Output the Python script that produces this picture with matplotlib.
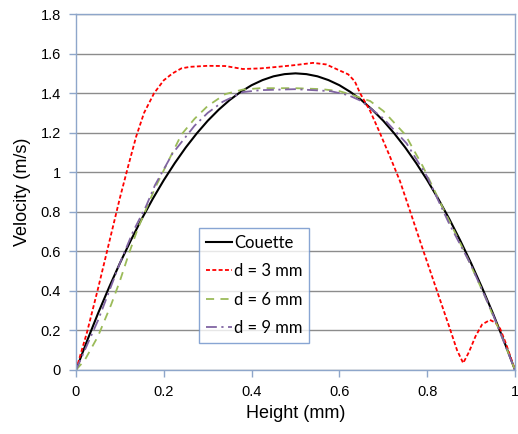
import matplotlib.pyplot as plt

# Couette (analytical) profile
x_couette = [0, 0.025, 0.05, 0.075, 0.1, 0.125, 0.15, 0.175, 0.2, 0.225, 0.25,
             0.275, 0.3, 0.325, 0.35, 0.375, 0.4, 0.425, 0.45, 0.475, 0.5,
             0.525, 0.55, 0.575, 0.6, 0.625, 0.65, 0.675, 0.7, 0.725, 0.75,
             0.775, 0.8, 0.825, 0.85, 0.875, 0.9, 0.925, 0.95, 0.975, 1.0]
v_couette = [0, 0.146, 0.285, 0.416, 0.54, 0.656, 0.765, 0.866, 0.96, 1.046, 1.125,
             1.196, 1.26, 1.316, 1.365, 1.406, 1.44, 1.466, 1.485, 1.496, 1.5,
             1.496, 1.485, 1.466, 1.44, 1.406, 1.365, 1.316, 1.26, 1.196, 1.125,
             1.046, 0.96, 0.866, 0.765, 0.656, 0.54, 0.416, 0.285, 0.146, 0]

# d = 3 mm
x_d3 = [0, 0.025, 0.05, 0.075, 0.1, 0.12, 0.137, 0.155, 0.178, 0.2, 0.22,
        0.24, 0.26, 0.3, 0.34, 0.38, 0.42, 0.46, 0.5, 0.54, 0.57, 0.6, 0.62,
        0.635, 0.647, 0.67, 0.692, 0.715, 0.738, 0.76, 0.787, 0.81, 0.83,
        0.85, 0.868, 0.882, 0.895, 0.91, 0.925, 0.943, 0.955, 0.966, 0.98, 1.0]
v_d3 = [0, 0.19, 0.41, 0.64, 0.87, 1.04, 1.18, 1.3, 1.4, 1.465, 1.5,
        1.525, 1.533, 1.538, 1.537, 1.522, 1.525, 1.533, 1.542, 1.553, 1.545, 1.515, 1.495,
        1.46, 1.4, 1.31, 1.2, 1.08, 0.955, 0.81, 0.63, 0.48, 0.35,
        0.22, 0.1, 0.035, 0.09, 0.17, 0.23, 0.253, 0.24, 0.21, 0.13, 0]

# d = 6 mm
x_d6 = [0, 0.02, 0.05, 0.08, 0.1, 0.12, 0.14, 0.16, 0.18, 0.2, 0.22, 0.24,
        0.27, 0.3, 0.34, 0.38, 0.42, 0.5, 0.56, 0.6, 0.63, 0.67, 0.7, 0.75,
        0.79, 0.84, 0.89, 0.93, 0.97, 1.0]
v_d6 = [0, 0.05, 0.17, 0.33, 0.45, 0.585, 0.71, 0.815, 0.92, 1.01, 1.1, 1.19,
        1.27, 1.335, 1.395, 1.418, 1.425, 1.425, 1.42, 1.41, 1.39, 1.36, 1.31, 1.19,
        1.03, 0.8, 0.575, 0.38, 0.17, 0]

# d = 9 mm
x_d9 = [0, 0.05, 0.1, 0.13, 0.16, 0.18, 0.22, 0.27, 0.3, 0.334, 0.38, 0.42,
        0.5, 0.58, 0.62, 0.65, 0.7, 0.753, 0.8, 0.85, 0.9, 0.95, 1.0]
v_d9 = [0, 0.25, 0.54, 0.7, 0.83, 0.935, 1.095, 1.235, 1.3, 1.356, 1.405, 1.415,
        1.42, 1.41, 1.39, 1.36, 1.272, 1.146, 0.977, 0.74, 0.53, 0.28, 0]

plt.rcParams['font.family'] = ['Liberation Sans', 'DejaVu Sans']
plt.rcParams['font.size'] = 10.5

fig = plt.figure(figsize=(5.18, 4.34), dpi=100)
ax = fig.add_axes([0.1467, 0.1475, 0.8475, 0.8202])

ax.plot(x_couette, v_couette, color='black', lw=1.5, label='Couette')
ax.plot(x_d3, v_d3, color='#FF0000', lw=1.3, dashes=(2.2, 1.3), label='d = 3 mm')
ax.plot(x_d6, v_d6, color='#9BBB59', lw=1.3, dashes=(4.5, 3.5), label='d = 6 mm')
ax.plot(x_d9, v_d9, color='#8064A2', lw=1.3, dashes=(6, 2.5, 1.2, 2.5), label='d = 9 mm')

ax.set_xlim(0, 1)
ax.set_ylim(0, 1.8)
ax.set_xticks([0, 0.2, 0.4, 0.6, 0.8, 1.0])
ax.set_xticklabels(['0', '0.2', '0.4', '0.6', '0.8', '1'])
ax.set_yticks([0, 0.2, 0.4, 0.6, 0.8, 1.0, 1.2, 1.4, 1.6, 1.8])
ax.set_yticklabels(['0', '0.2', '0.4', '0.6', '0.8', '1', '1.2', '1.4', '1.6', '1.8'])
ax.grid(axis='y', color='#8C8C8C', lw=1)
ax.set_axisbelow(True)

spine_color = '#8EA6CA'
for s in ax.spines.values():
    s.set_color(spine_color)
    s.set_linewidth(1)
ax.tick_params(axis='both', colors=spine_color, labelcolor='black', length=5, width=1, pad=6)

ax.set_xlabel('Height (mm)', fontsize=13, labelpad=4)
ax.set_ylabel('Velocity (m/s)', fontsize=13, labelpad=7)

leg = ax.legend(loc='upper left', bbox_to_anchor=(199 / 518, 1 - 228 / 434),
                bbox_transform=fig.transFigure, frameon=True, fancybox=False,
                prop={'family': 'Lato', 'size': 12}, handlelength=1.6,
                handletextpad=0.1, labelspacing=0.75, borderpad=0.4,
                borderaxespad=0)
leg.get_frame().set_edgecolor('#6A8FC8')
leg.get_frame().set_linewidth(1)

fig.savefig('out.png', dpi=100)
